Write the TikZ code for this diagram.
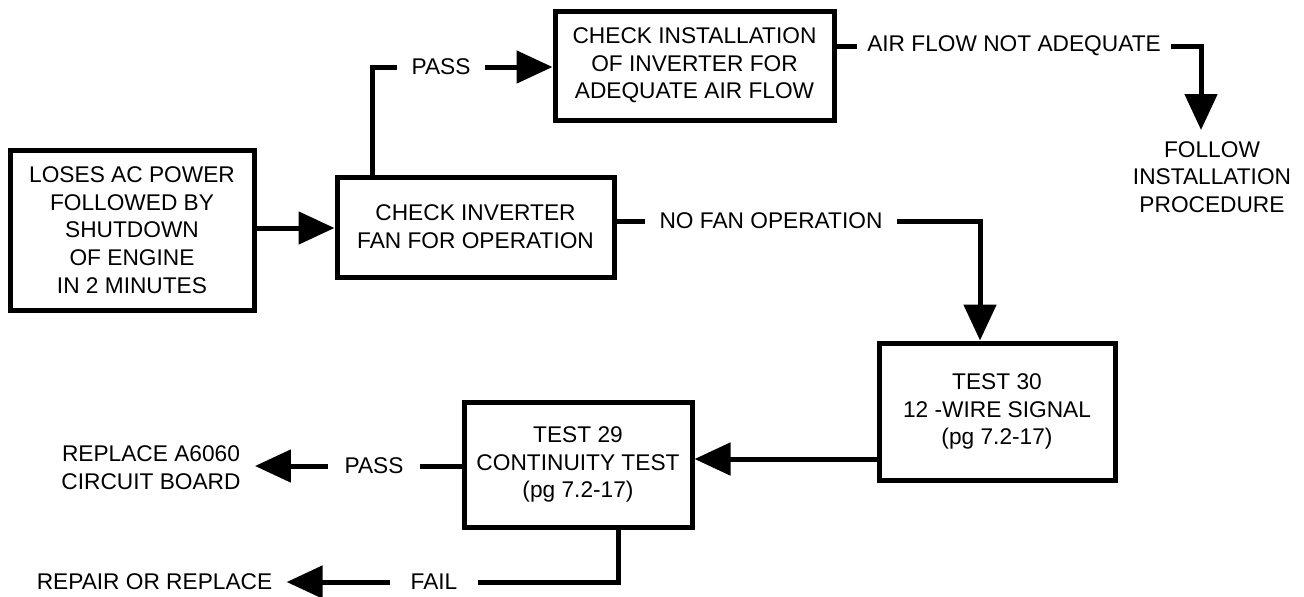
\documentclass[tikz,border=0pt]{standalone}
\usepackage{fontspec}
\setmainfont{Liberation Sans}
\usetikzlibrary{arrows.meta,calc}
\begin{document}
\begin{tikzpicture}[x=0.5pt,y=-0.5pt,
  every node/.style={font=\fontsize{11.35pt}{13.85pt}\selectfont, align=center},
  box/.style={draw, line width=2.5pt, inner sep=0pt, fill=white},
  lab/.style={inner xsep=7pt, inner ysep=0pt},
  conn/.style={line width=2.5pt},
  arr/.style={conn, -{Triangle[length=18pt,width=16pt]}}]
\useasboundingbox (0,0) rectangle (1304,596);
% boxes
\node[box, minimum width=122pt, minimum height=80pt] (b1) at (132,230)
  {LOSES AC POWER\\FOLLOWED BY\\SHUTDOWN\\OF ENGINE\\IN 2 MINUTES};
\node[box, minimum width=138.5pt, minimum height=50pt] (b2) at (475.5,227)
  {CHECK INVERTER\\FAN FOR OPERATION};
\node[box, minimum width=139.5pt, minimum height=54.5pt] (b3) at (694.5,65.5)
  {CHECK INSTALLATION\\OF INVERTER FOR\\ADEQUATE AIR FLOW};
\node[box, minimum width=118pt, minimum height=68.5pt] (b4) at (997,411.5)
  {TEST 30\\12 -WIRE SIGNAL\hspace*{9pt}\\(pg 7.2-17)};
\node[box, minimum width=114pt, minimum height=62.5pt] (b5) at (578,464.5)
  {TEST 29\\CONTINUITY TEST\\(pg 7.2-17)};
% labels
\node[lab] (pass1) at (441,67) {PASS};
\node[lab, inner xsep=5pt] (afna) at (1014,46) {AIR FLOW NOT ADEQUATE};
\node[lab] (follow) at (1212,177) {FOLLOW\\INSTALLATION\\PROCEDURE};
\node[lab] (nofan) at (771,221) {NO FAN OPERATION};
\node[lab, inner xsep=8pt] (pass2) at (374,466) {PASS};
\node[lab] (repl) at (151,468) {REPLACE A6060\\CIRCUIT BOARD};
\node[lab, inner xsep=10pt] (fail) at (434,582) {FAIL};
\node[lab] (repair) at (154.5,582) {REPAIR OR REPLACE};
\coordinate (fend) at (1201,130);
% connectors
\draw[arr] ($(b1.east)+(0,-2)$) -- ($(b2.west)+(0,1)$);
\draw[conn] ([xshift=-51.75pt]b2.north) |- (pass1.west);
\draw[arr] (pass1.east) -- (b3.west |- pass1.east);
\draw[conn] (b3.east |- afna.west) -- (afna.west);
\draw[arr] (afna.east) -| (fend);
\draw[conn] (b2.east |- nofan.west) -- (nofan.west);
\draw[arr] (nofan.east) -| ([xshift=-8.5pt]b4.north);
\draw[arr] ($(b4.west)+(0,47.5)$) -- ($(b5.east)+(0,-5.5)$);
\draw[conn] (b5.west |- pass2.east) -- (pass2.east);
\draw[arr] (pass2.west) -- (repl.east |- pass2.west);
\draw[conn] ([xshift=20pt]b5.south) |- (fail.east);
\draw[arr] (fail.west) -- (repair.east |- fail.west);
\end{tikzpicture}
\end{document}
